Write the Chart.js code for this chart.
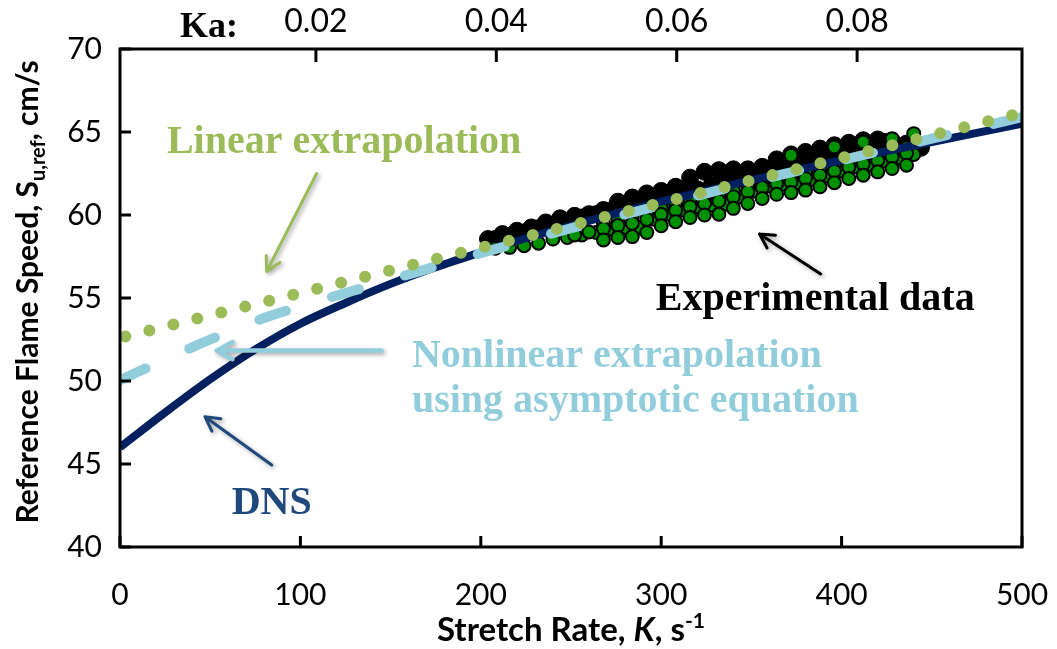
<!DOCTYPE html>
<html>
<head>
<meta charset="utf-8">
<script src="https://cdn.jsdelivr.net/npm/chart.js@4.4.0/dist/chart.umd.min.js"></script>
<style>
  html, body { margin: 0; padding: 0; background: #fff; }
  #wrap { width: 1057px; height: 649px; }
</style>
</head>
<body>
<div id="wrap"><canvas id="flameChart" width="1057" height="649"></canvas></div>
<script>
// Stretch rate K (1/s) -> reference flame speed S_u,ref (cm/s)
const curveK = [0, 25, 50, 75, 100, 125, 150, 175, 200, 225, 250, 275, 300, 325, 350, 375, 400, 425, 450, 475, 500]
const dnsS = [46.0, 48.1, 50.1, 51.9, 53.45, 54.7, 55.85, 56.85, 57.75, 58.6, 59.35, 60.1, 60.8, 61.45, 62.1, 62.7, 63.3, 63.85, 64.4, 64.95, 65.5]
const nonlinS = [50.05, 51.3, 52.5, 53.6, 54.5, 55.3, 56.1, 56.9, 57.7, 58.45, 59.2, 59.9, 60.6, 61.3, 62.0, 62.65, 63.3, 63.95, 64.6, 65.25, 65.9]
const linearK = [3, 497]
const linearS = [52.68, 66.07]

// experimental cloud, upper (dark) part
const expDarkK = [204, 212, 220, 228, 236, 244, 252, 260, 268, 276, 284, 292, 300, 308, 316, 324, 332, 340, 348, 356, 364, 372, 380, 388, 396, 404, 412, 420, 428, 436, 444,
  208, 216, 224, 232, 240, 248, 256, 264, 272, 280, 288, 296, 304, 312, 320, 328, 336, 344, 352, 360, 368, 376, 384, 392, 400, 408, 416, 424]
const expDarkS = [58.55, 58.85, 59.05, 59.25, 59.55, 59.8, 59.95, 60.05, 60.3, 60.8, 61.05, 61.3, 61.45, 61.7, 62.25, 62.6, 62.7, 62.75, 62.75, 62.9, 63.35, 63.65, 63.8, 64.0, 64.2, 64.35, 64.5, 64.55, 64.45, 64.3, 64.05,
  58.55, 58.75, 58.95, 59.2, 59.4, 59.6, 59.85, 60.05, 60.25, 60.5, 60.7, 60.9, 61.15, 61.35, 61.55, 61.8, 62.0, 62.2, 62.45, 62.65, 62.85, 63.1, 63.3, 63.5, 63.75, 63.95, 64.15, 64.4]

// experimental cloud, lower (green) part
const expGreenK = [208, 216, 224, 232, 240, 248, 256, 264, 272, 280, 288, 296, 304, 312, 320, 328, 336, 344, 352, 360, 368, 376, 384, 392, 400, 408, 416, 424, 432, 440,
  268, 276, 284, 292, 300, 308, 316, 324, 332, 340, 348, 356, 364, 372, 380, 388, 396, 404, 412, 420, 428, 436,
  252, 260, 268, 276, 284, 292, 300, 308, 316, 324, 332, 340, 348, 356, 364, 372, 380, 388, 396, 404, 412, 420, 428, 436,
  268, 276, 284, 292, 300, 308, 316, 324, 332, 340, 348, 356, 364, 372, 380, 388, 396, 404, 412, 420, 428, 436,
  372, 396, 412, 428, 440]
const expGreenS = [58.0, 58.05, 58.15, 58.3, 58.55, 58.65, 58.8, 58.95, 59.15, 59.25, 59.25, 59.75, 60.05, 60.3, 60.5, 60.6, 60.65, 61.1, 61.45, 61.75, 61.85, 61.95, 62.15, 62.35, 62.65, 62.9, 63.05, 63.25, 63.45, 63.65,
  59.5, 59.75, 59.95, 60.15, 60.4, 60.6, 60.8, 61.05, 61.25, 61.45, 61.7, 61.9, 62.1, 62.35, 62.55, 62.75, 63.0, 63.2, 63.4, 63.65, 63.85, 64.05,
  58.8, 58.98, 59.18, 59.36, 59.5, 59.73, 60.04, 60.28, 60.5, 60.69, 60.84, 61.1, 61.4, 61.65, 61.88, 62.0, 62.2, 62.4, 62.64, 62.88, 63.08, 63.29, 63.5, 63.71,
  58.5, 58.65, 58.7, 58.95, 59.35, 59.6, 59.85, 60.0, 60.05, 60.4, 60.7, 61.0, 61.25, 61.35, 61.5, 61.7, 61.95, 62.2, 62.4, 62.6, 62.8, 63.0,
  63.6, 64.1, 64.4, 64.6, 64.9]

const xTicks = [0, 100, 200, 300, 400, 500]
const yTicks = [40, 45, 50, 55, 60, 65, 70]
const kaTicks = [0.02, 0.04, 0.06, 0.08]
const kaRange = [-0.00172, 0.09828] // Ka at K = 0 and K = 500

const NAVY = "#002060"
const LIGHT_BLUE = "#92CDDC"
const OLIVE = "#9BBB59"
const DNS_TEXT = "#1F497D"

const pairs = (xs, ys) => xs.map((x, i) => ({ x: x, y: ys[i] }))

function drawArrow(ctx, x1, y1, x2, y2, color, width, head) {
  const ang = Math.atan2(y2 - y1, x2 - x1)
  ctx.save()
  ctx.strokeStyle = color
  ctx.lineWidth = width
  ctx.lineCap = "round"
  ctx.lineJoin = "round"
  ctx.shadowColor = "rgba(0,0,0,0.35)"
  ctx.shadowBlur = 4
  ctx.shadowOffsetX = 2
  ctx.shadowOffsetY = 2
  ctx.beginPath()
  ctx.moveTo(x1, y1)
  ctx.lineTo(x2, y2)
  ctx.moveTo(x2 + head * Math.cos(ang + Math.PI - 0.5), y2 + head * Math.sin(ang + Math.PI - 0.5))
  ctx.lineTo(x2, y2)
  ctx.lineTo(x2 + head * Math.cos(ang + Math.PI + 0.5), y2 + head * Math.sin(ang + Math.PI + 0.5))
  ctx.stroke()
  ctx.restore()
}

// draws text made of pieces, each {t, font, dy}
function drawPieces(ctx, pieces, x, y) {
  let cx = x
  pieces.forEach((p) => {
    ctx.font = p.font
    ctx.fillText(p.t, cx, y + (p.dy || 0))
    cx += ctx.measureText(p.t).width
  })
}

function piecesWidth(ctx, pieces) {
  let w = 0
  pieces.forEach((p) => {
    ctx.font = p.font
    w += ctx.measureText(p.t).width
  })
  return w
}

const framePlugin = {
  id: "frameAndNotes",
  afterDraw(chart) {
    const { ctx, chartArea: a, scales } = chart
    const xs = scales.x
    const ys = scales.y
    const ka = scales.ka
    const px = (k) => xs.getPixelForValue(k)
    const py = (s) => ys.getPixelForValue(s)

    ctx.save()
    // frame
    ctx.strokeStyle = "#000"
    ctx.lineWidth = 3
    ctx.strokeRect(a.left, a.top, a.right - a.left, a.bottom - a.top)

    // inside tick marks
    ctx.beginPath()
    ys.ticks.forEach((t) => {
      const y = py(t.value)
      ctx.moveTo(a.left, y)
      ctx.lineTo(a.left + 11, y)
    })
    xs.ticks.forEach((t) => {
      const x = px(t.value)
      ctx.moveTo(x, a.bottom)
      ctx.lineTo(x, a.bottom - 11)
    })
    ka.ticks.forEach((t) => {
      const x = ka.getPixelForValue(t.value)
      ctx.moveTo(x, a.top)
      ctx.lineTo(x, a.top + 13)
    })
    ctx.stroke()

    // arrows
    drawArrow(ctx, px(109), py(62.5), px(81.3), py(56.6), OLIVE, 3, 16)
    drawArrow(ctx, px(145), py(51.83), px(53.6), py(51.83), LIGHT_BLUE, 4.5, 18)
    drawArrow(ctx, px(84.1), py(44.94), px(47.1), py(47.85), DNS_TEXT, 3, 16)
    drawArrow(ctx, px(388.4), py(56.45), px(354.5), py(58.86), "#000", 3, 16)

    // annotation texts
    ctx.textBaseline = "alphabetic"
    ctx.textAlign = "left"
    const serif = "bold 40px 'Liberation Serif', 'Times New Roman', serif"
    ctx.font = serif
    ctx.fillStyle = OLIVE
    ctx.fillText("Linear extrapolation", px(26), py(63.72))
    ctx.fillStyle = "#000"
    ctx.fillText("Experimental data", px(297), py(54.25))
    ctx.fillStyle = LIGHT_BLUE
    ctx.fillText("Nonlinear extrapolation", px(161.8), py(50.82))
    ctx.fillText("using asymptotic equation", px(161.8), py(48.12))
    ctx.fillStyle = DNS_TEXT
    ctx.fillText("DNS", px(61.9), py(41.99))

    ctx.fillStyle = "#000"
    ctx.font = "bold 36px 'Liberation Serif', serif"
    ctx.fillText("Ka:", 180, 37)

    // x axis title
    const fB = "bold 33px Lato, sans-serif"
    const fBI = "italic bold 33px Lato, sans-serif"
    const fSup = "bold 21px Lato, sans-serif"
    const xt = [
      { t: "Stretch Rate, ", font: fB },
      { t: "K", font: fBI },
      { t: ", s", font: fB },
      { t: "-1", font: fSup, dy: -13 },
    ]
    const xw = piecesWidth(ctx, xt)
    drawPieces(ctx, xt, (a.left + a.right) / 2 - xw / 2, 641)

    // y axis title (rotated)
    const fY = "bold 30px Lato, sans-serif"
    const fYs = "bold 20px Lato, sans-serif"
    const yt = [
      { t: "Reference Flame Speed, S", font: fY },
      { t: "u,ref", font: fYs, dy: 7 },
      { t: ", cm/s", font: fY },
    ]
    const yw = piecesWidth(ctx, yt)
    ctx.translate(38, (a.top + a.bottom) / 2 - 6)
    ctx.rotate(-Math.PI / 2)
    drawPieces(ctx, yt, -yw / 2, 0)
    ctx.restore()
  },
}

const noEdgePadding = (s) => { s.paddingLeft = 0; s.paddingRight = 0 }

new Chart(document.getElementById("flameChart"), {
  type: "scatter",
  data: {
    datasets: [
      {
        label: "Linear extrapolation",
        type: "line",
        data: pairs(linearK, linearS),
        borderColor: OLIVE,
        borderWidth: 12,
        borderDash: [0, 24.7],
        borderCapStyle: "round",
        pointRadius: 0,
        fill: false,
        clip: false,
        order: 1,
      },
      {
        label: "Nonlinear extrapolation",
        type: "line",
        data: pairs(curveK, nonlinS),
        borderColor: LIGHT_BLUE,
        borderWidth: 10,
        borderDash: [28, 48],
        borderCapStyle: "round",
        cubicInterpolationMode: "monotone",
        pointRadius: 0,
        fill: false,
        order: 2,
      },
      {
        label: "DNS",
        type: "line",
        data: pairs(curveK, dnsS),
        borderColor: NAVY,
        borderWidth: 8,
        cubicInterpolationMode: "monotone",
        pointRadius: 0,
        fill: false,
        order: 3,
      },
      {
        label: "Experimental data",
        data: pairs(expGreenK, expGreenS),
        pointRadius: 6.5,
        pointBackgroundColor: "#009000",
        pointBorderColor: "#000",
        pointBorderWidth: 2,
        order: 5,
      },
      {
        label: "Experimental data (dense)",
        data: pairs(expDarkK, expDarkS),
        pointRadius: 8.5,
        pointBackgroundColor: "#000",
        pointBorderColor: "#000",
        pointBorderWidth: 1,
        order: 6,
      },
    ],
  },
  options: {
    responsive: false,
    devicePixelRatio: 1,
    animation: false,
    events: [],
    layout: { padding: { left: 0, right: 35, top: 0, bottom: 0 } },
    plugins: { legend: { display: false }, tooltip: { enabled: false } },
    scales: {
      x: {
        type: "linear",
        position: "bottom",
        min: 0,
        max: 500,
        afterBuildTicks: (s) => { s.ticks = xTicks.map((v) => ({ value: v })) },
        afterFit: (s) => { s.height = 102; noEdgePadding(s) },
        grid: { display: false, drawTicks: false },
        border: { display: false },
        ticks: { color: "#000", font: { family: "Lato, sans-serif", size: 30 }, padding: 30 },
      },
      ka: {
        type: "linear",
        position: "top",
        min: kaRange[0],
        max: kaRange[1],
        afterBuildTicks: (s) => { s.ticks = kaTicks.map((v) => ({ value: v })) },
        afterFit: (s) => { s.height = 49; noEdgePadding(s) },
        grid: { display: false, drawTicks: false },
        border: { display: false },
        ticks: { color: "#000", font: { family: "Lato, sans-serif", size: 32 }, padding: 8, callback: (v) => v.toFixed(2) },
      },
      y: {
        type: "linear",
        min: 40,
        max: 70,
        afterBuildTicks: (s) => { s.ticks = yTicks.map((v) => ({ value: v })) },
        afterFit: (s) => { s.width = 120 },
        grid: { display: false, drawTicks: false },
        border: { display: false },
        ticks: { color: "#000", font: { family: "Lato, sans-serif", size: 30 }, padding: 18 },
      },
    },
  },
  plugins: [framePlugin],
})
</script>
</body>
</html>
